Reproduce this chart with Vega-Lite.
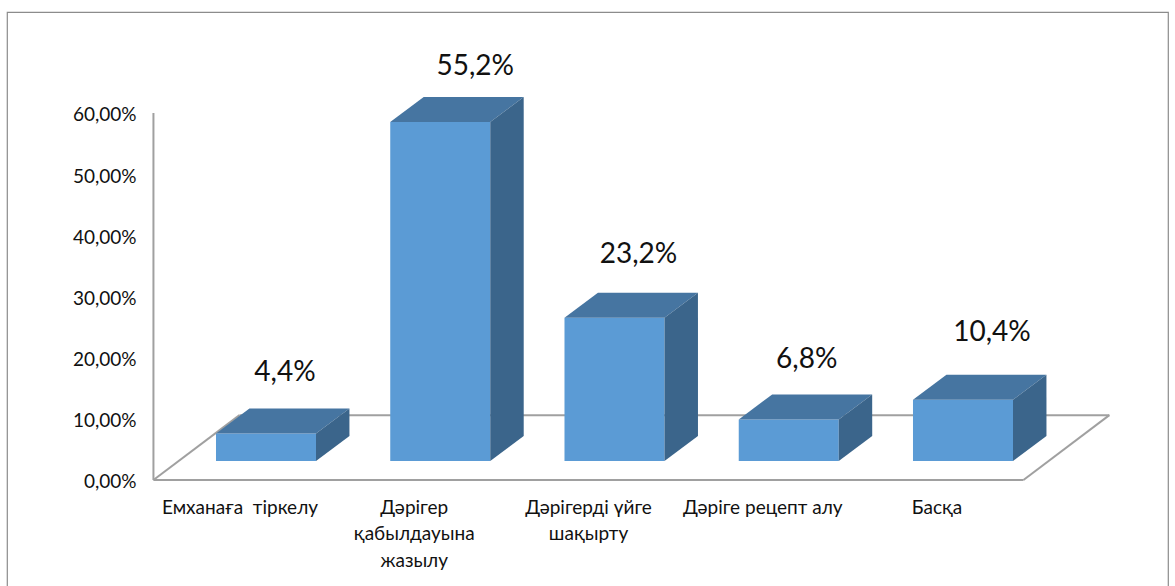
{
"$schema":"https://vega.github.io/schema/vega-lite/v6.json",
"width":1161,"height":575,
"autosize":{"type":"none"},
"padding":{"left":7,"top":12,"right":7,"bottom":0},
"background":"white",
"config":{"view":{"stroke":"#8c8c8c","strokeWidth":1.2},"font":"Lato"},
"datasets":{"bars":[
{"category":"Емханаға \u00a0тіркелу","value":4.5,"label":"4,4%"},
{"category":"Дәрігер\nқабылдауына\nжазылу","value":55.4,"label":"55,2%"},
{"category":"Дәрігерді үйге\nшақырту","value":23.4,"label":"23,2%"},
{"category":"Дәріге рецепт алу","value":6.8,"label":"6,8%"},
{"category":"Басқа","value":10.0,"label":"10,4%"}
],
"frame":[
{"x":-0.646,"x2":-0.646,"y":0,"y2":60},
{"x":-0.646,"x2":4.347,"y":0,"y2":0},
{"x":-0.646,"x2":-0.152,"y":0,"y2":10.6},
{"x":-0.152,"x2":4.84,"y":10.6,"y2":10.6},
{"x":4.347,"x2":4.84,"y":0,"y2":10.6}
]},
"data":{"name":"bars"},
"transform":[
{"window":[{"op":"row_number","as":"n"}]},
{"calculate":"datum.n-1","as":"i"},
{"calculate":"datum.i-0.287","as":"xl"},
{"calculate":"datum.i+0.287","as":"xr"},
{"calculate":"3.1","as":"base"},
{"calculate":"3.1+datum.value","as":"top"}
],
"layer":[
{"data":{"name":"frame"},"transform":[],
 "mark":{"type":"rule","color":"#a0a0a0","strokeWidth":2},
 "encoding":{"x":{"field":"x","type":"quantitative","scale":{"domain":[-1.4864,5.1765],"nice":false,"zero":false},"axis":null},
 "x2":{"field":"x2"},
 "y":{"field":"y","type":"quantitative","scale":{"domain":[-17.49,76.49],"nice":false,"zero":false},
   "axis":{"values":[0,10,20,30,40,50,60],"offset":-129,"domain":false,"ticks":false,"grid":false,"title":null,"labelFontSize":19,"labelColor":"#111111","labelPadding":0,"labelOffset":2,"labelFont":"Lato","labelExpr":"replace(format(datum.value,'.2f'),'.',',')+'%'"}},
 "y2":{"field":"y2"}}},
{"mark":{"type":"rect","color":"#5b9bd5"},
 "encoding":{"x":{"field":"xl","type":"quantitative"},"x2":{"field":"xr"},"y":{"field":"base","type":"quantitative"},"y2":{"field":"top"}}},
{"transform":[
  {"calculate":"[0,1,2,3]","as":"ps"},{"flatten":["ps"],"as":["k"]},
  {"calculate":"[datum.xl,datum.xl+0.192,datum.xr,datum.xr+0.192][datum.k]","as":"ax"},
  {"calculate":"datum.k==3?datum.top+4.09:datum.top","as":"ay"},
  {"calculate":"datum.k==0?datum.top:datum.top+4.09","as":"ay2"}],
 "mark":{"type":"area","color":"#4675a1","interpolate":"linear","orient":"vertical"},
 "encoding":{"x":{"field":"ax","type":"quantitative"},"y":{"field":"ay","type":"quantitative"},"y2":{"field":"ay2"},"detail":{"field":"category","type":"nominal"}}},
{"transform":[
  {"calculate":"[0,1]","as":"ps"},{"flatten":["ps"],"as":["k"]},
  {"calculate":"datum.xr+datum.k*0.192","as":"ax"},
  {"calculate":"3.1+datum.k*4.09","as":"ay"},
  {"calculate":"datum.top+datum.k*4.09","as":"ay2"}],
 "mark":{"type":"area","color":"#3b658b","interpolate":"linear","orient":"vertical"},
 "encoding":{"x":{"field":"ax","type":"quantitative"},"y":{"field":"ay","type":"quantitative"},"y2":{"field":"ay2"},"detail":{"field":"category","type":"nominal"}}},
{"transform":[
  {"calculate":"datum.i+[19,35,24,18,29][datum.i]/174.25","as":"tx"},
  {"calculate":"datum.top+[60.5,55.5,62.8,59.3,67.3][datum.i]/6.118","as":"ty"}],
 "mark":{"type":"text","fontSize":28,"color":"#111111","align":"center","baseline":"middle","font":"Lato"},
 "encoding":{"x":{"field":"tx","type":"quantitative"},"y":{"field":"ty","type":"quantitative"},"text":{"field":"label","type":"nominal"}}},
{"transform":[
  {"calculate":"datum.i-26/174.25","as":"tx"},
  {"calculate":"-3.1","as":"ty"},
  {"calculate":"split(datum.category,'\\n')","as":"categoryLines"}],
 "mark":{"type":"text","fontSize":19,"color":"#111111","align":"center","baseline":"top","lineHeight":26.3,"font":"Lato"},
 "encoding":{"x":{"field":"tx","type":"quantitative"},"y":{"field":"ty","type":"quantitative"},"text":{"field":"categoryLines","type":"nominal"}}}
]
}
